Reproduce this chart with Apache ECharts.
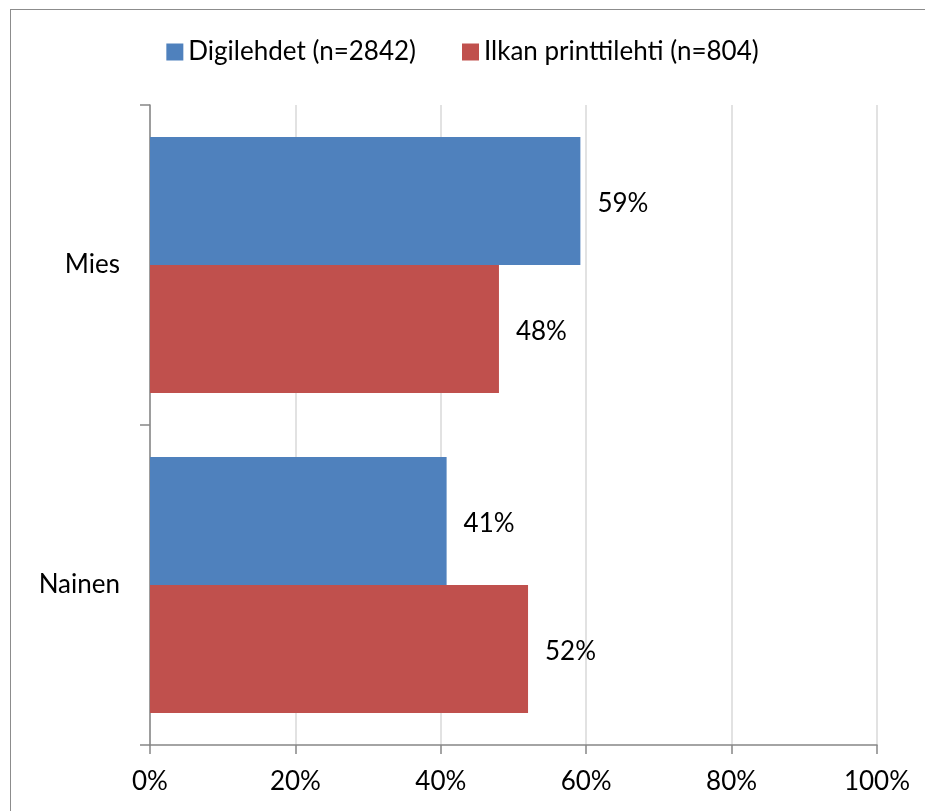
<!DOCTYPE html>
<html><head><meta charset="utf-8">
<script src="https://cdn.jsdelivr.net/npm/echarts@6/dist/echarts.min.js"></script>
<style>html,body{margin:0;padding:0;background:#fff;overflow:hidden}#c{width:925px;height:811px}
#frame{position:absolute;left:10px;top:9px;width:930px;height:820px;border:1.5px solid #8c8c8c;box-sizing:border-box;pointer-events:none}</style>
</head><body><div id="c"></div><div id="frame"></div>
<script>
const categories = ['Mies', 'Nainen'];
const seriesNames = ['Digilehdet (n=2842)', 'Ilkan printtilehti (n=804)'];
const digiValues = [59.2, 40.8];
const printValues = [48.0, 52.0];
const tickLabels = ['0%', '20%', '40%', '60%', '80%', '100%'];

const font = 'Lato, "Open Sans", sans-serif';
const fs = 26;
const chart = echarts.init(document.getElementById('c'));
const lbl = {show: true, position: 'right', distance: 17, offset: [0, 3], color: '#000', fontSize: fs, fontFamily: font,
  formatter: p => Math.round(p.value) + '%'};
chart.setOption({
  animation: false,
  legend: {top: 34, left: 'center', itemWidth: 17, itemHeight: 17, itemGap: 46,
    icon: 'rect', textStyle: {fontSize: fs, fontFamily: font, color: '#000'}, data: seriesNames},
  grid: {left: 150, right: 48, top: 105, bottom: 66, containLabel: false},
  xAxis: {type: 'value', min: 0, max: 100, interval: 20,
    axisLine: {show: true, lineStyle: {color: '#868686', width: 1.5}},
    axisTick: {show: true, length: 9, lineStyle: {color: '#868686', width: 1.5}},
    splitLine: {show: true, lineStyle: {color: '#d9d9d9', width: 1.5}},
    axisLabel: {margin: 24, fontSize: fs, fontFamily: font, color: '#000',
      formatter: v => tickLabels[Math.round(v / 20)]}},
  yAxis: {type: 'category', data: categories, inverse: true,
    axisLine: {show: true, lineStyle: {color: '#868686', width: 1.5}},
    axisTick: {show: true, length: 10, lineStyle: {color: '#868686', width: 1.5}},
    axisLabel: {margin: 30, fontSize: fs, fontFamily: font, color: '#000', padding: [5, 0, 0, 0]}},
  series: [
    {name: seriesNames[0], type: 'bar', data: digiValues, itemStyle: {color: '#4f81bd'},
      barGap: '0%', barCategoryGap: '20%', label: lbl},
    {name: seriesNames[1], type: 'bar', data: printValues, itemStyle: {color: '#c0504d'},
      barGap: '0%', barCategoryGap: '20%', label: lbl}
  ]
});
</script></body></html>
